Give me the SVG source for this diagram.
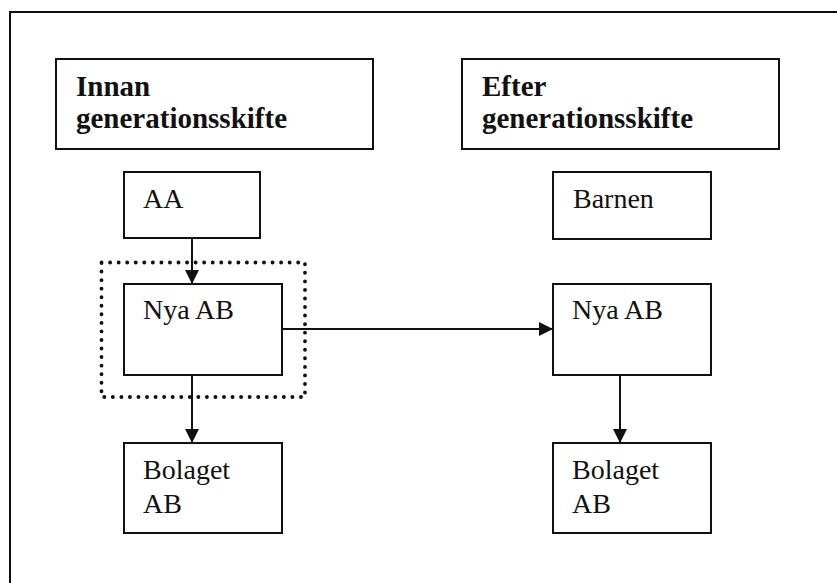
<svg xmlns="http://www.w3.org/2000/svg" width="837" height="583" viewBox="0 0 837 583">
<style>
.box{fill:#fff;stroke:#111;stroke-width:2}
.hd{font-family:"Liberation Serif",serif;font-size:29px;font-weight:bold;fill:#111}
.tx{font-family:"Liberation Serif",serif;font-size:28px;fill:#111}
.ln{stroke:#111;stroke-width:2;fill:none}
</style>
<defs>
<marker id="ah" viewBox="0 0 14 14" refX="14" refY="7" markerWidth="14" markerHeight="14" markerUnits="userSpaceOnUse" orient="auto">
<path d="M0,0 L14,7 L0,14 Z" fill="#111"/>
</marker>
</defs>
<rect x="0" y="0" width="837" height="583" fill="#fff"/>
<rect id="frame" x="10" y="12" width="840" height="600" fill="none" stroke="#111" stroke-width="2"/>
<g id="hdr-left">
<rect class="box" x="56" y="59" width="317" height="90"/>
<text class="hd" x="76" y="96">Innan</text>
<text class="hd" x="76" y="128">generationsskifte</text>
</g>
<g id="hdr-right">
<rect class="box" x="462" y="59" width="317" height="90"/>
<text class="hd" x="482" y="96">Efter</text>
<text class="hd" x="482" y="128">generationsskifte</text>
</g>
<g id="aa">
<rect class="box" x="124" y="172" width="136" height="66"/>
<text class="tx" x="143" y="208">AA</text>
</g>
<g id="barnen">
<rect class="box" x="553" y="172" width="158" height="67"/>
<text class="tx" x="573" y="208">Barnen</text>
</g>
<g id="nya-left">
<rect class="box" x="124" y="284" width="158" height="91"/>
<text class="tx" x="143" y="319">Nya AB</text>
</g>
<g id="nya-right">
<rect class="box" x="553" y="284" width="158" height="91"/>
<text class="tx" x="572" y="319">Nya AB</text>
</g>
<g id="bolaget-left">
<rect class="box" x="124" y="443" width="158" height="90"/>
<text class="tx" x="143" y="479">Bolaget</text>
<text class="tx" x="143" y="513">AB</text>
</g>
<g id="bolaget-right">
<rect class="box" x="553" y="443" width="158" height="90"/>
<text class="tx" x="572" y="479">Bolaget</text>
<text class="tx" x="572" y="513">AB</text>
</g>
<g id="dotted-group">
<rect x="101.5" y="262.5" width="203.5" height="134.5" fill="none" stroke="#111" stroke-width="3.8" stroke-linecap="round" stroke-dasharray="0.1 8.45"/>
</g>
<g id="connectors">
<line class="ln" x1="192" y1="238" x2="192" y2="284" marker-end="url(#ah)"/>
<line class="ln" x1="192" y1="375" x2="192" y2="443" marker-end="url(#ah)"/>
<line class="ln" x1="282" y1="329" x2="553" y2="329" marker-end="url(#ah)"/>
<line class="ln" x1="620" y1="375" x2="620" y2="443" marker-end="url(#ah)"/>
</g>
</svg>
